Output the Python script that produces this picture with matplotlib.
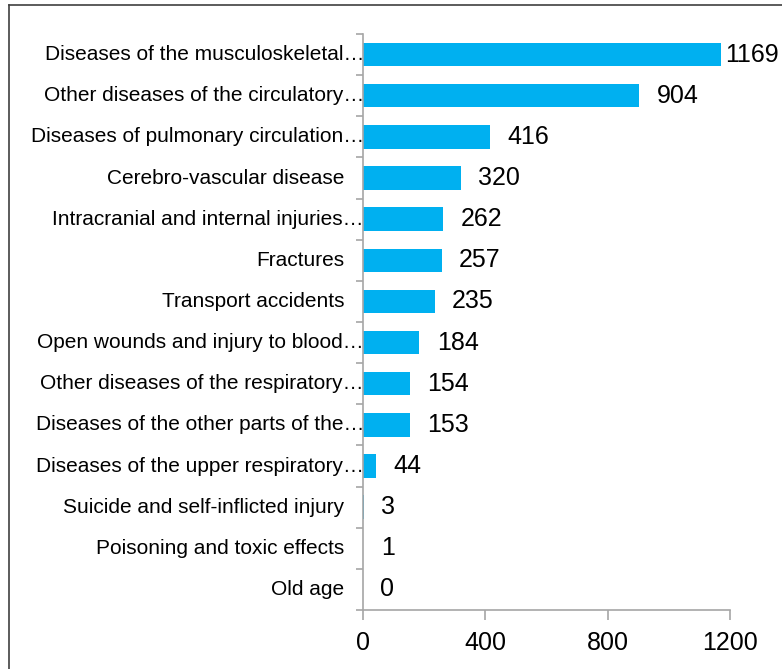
import matplotlib
matplotlib.use("Agg")
import matplotlib.pyplot as plt
import matplotlib.transforms as mtransforms
from matplotlib.lines import Line2D

plt.rcParams['font.family'] = ['Liberation Sans', 'DejaVu Sans']

categories = [
    "Diseases of the musculoskeletal…",
    "Other diseases of the circulatory…",
    "Diseases of pulmonary circulation…",
    "Cerebro-vascular disease",
    "Intracranial and internal injuries…",
    "Fractures",
    "Transport accidents",
    "Open wounds and injury to blood…",
    "Other diseases of the respiratory…",
    "Diseases of the other parts of the…",
    "Diseases of the upper respiratory…",
    "Suicide and self-inflicted injury",
    "Poisoning and toxic effects",
    "Old age",
]
values = [1169, 904, 416, 320, 262, 257, 235, 184, 154, 153, 44, 3, 1, 0]
xticks = [0, 400, 800, 1200]

W, H, DPI = 782, 669, 100
fig = plt.figure(figsize=(W / DPI, H / DPI), dpi=DPI)
ax = fig.add_axes([363 / W, 1 - 610 / H, (730 - 363) / W, (610 - 34) / H])

bar_color = '#00B0F0'
axis_color = '#A6A6A6'
n = len(categories)
ypos = list(range(n))
ax.barh(ypos, values, height=0.57, color=bar_color)
ax.set_xlim(0, 1200)
ax.set_ylim(n - 0.5, -0.5)

# value labels
for y, v in zip(ypos, values):
    off = 3 if v > 1100 else 12.5
    ax.annotate(str(v), (v, y), xytext=(off, 0), textcoords='offset points',
                ha='left', va='center', fontsize=18, color='black')

# category labels (truncated ones sit against the axis)
for y, lab in zip(ypos, categories):
    pad = -1 if lab.endswith('…') else 19
    trans = ax.get_yaxis_transform() + mtransforms.ScaledTranslation(-pad / DPI, 0, fig.dpi_scale_trans)
    ax.text(0, y, lab, transform=trans, ha='right', va='center', fontsize=15, color='black')

# y ticks between categories
ax.set_yticks([i - 0.5 for i in range(n + 1)])
ax.set_yticklabels([])
ax.tick_params(axis='y', direction='out', length=5, color=axis_color, width=1.2)
ax.set_xticks(xticks)
ax.set_xticklabels([str(t) for t in xticks], fontsize=18)
ax.tick_params(axis='x', direction='out', length=7, color=axis_color, width=1.2, pad=8)

for side in ['top', 'right']:
    ax.spines[side].set_visible(False)
for side in ['left', 'bottom']:
    ax.spines[side].set_color(axis_color)
    ax.spines[side].set_linewidth(1.2)

# outer chart frame (only left and top edges visible)
fig.add_artist(Line2D([9 / W, 9 / W], [0, 1 - 5 / H], color='#404040', lw=1.2))
fig.add_artist(Line2D([9 / W, 1], [1 - 5 / H, 1 - 5 / H], color='#404040', lw=1.2))

fig.savefig('out.png', dpi=DPI)
